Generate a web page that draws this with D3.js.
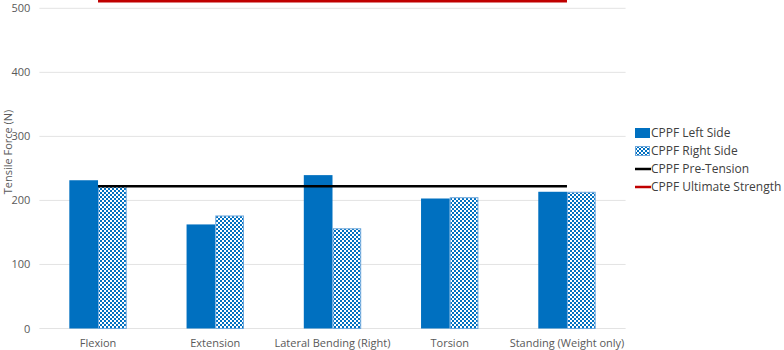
<!DOCTYPE html>
<html><head><meta charset="utf-8">
<script src="https://cdn.jsdelivr.net/npm/d3@7"></script>
<style>body{margin:0;background:#fff}svg{display:block}text{font-family:"Open Sans","Noto Sans",sans-serif}</style>
</head><body><svg id="c" width="784" height="350"></svg>
<script>
const categories = ["Flexion","Extension","Lateral Bending (Right)","Torsion","Standing (Weight only)"];
const leftSide = [231.5, 162.5, 239.5, 203, 213.5];
const rightSide = [224, 176.5, 156.5, 205, 213.5];
const preTension = [222, 222, 222, 222, 222];
const ultimateStrength = [511, 511, 511, 511, 511];
const yTicks = [0,100,200,300,400,500];
const legendLabels = ["CPPF Left Side","CPPF Right Side","CPPF Pre-Tension","CPPF Ultimate Strength"];

const svg = d3.select("#c");
const defs = svg.append("defs");
const pat = defs.append("pattern").attr("id","chk").attr("patternUnits","userSpaceOnUse")
  .attr("width",4).attr("height",4);
pat.append("rect").attr("width",4).attr("height",4).attr("fill","#ffffff");
pat.append("rect").attr("x",0).attr("y",0).attr("width",2).attr("height",2).attr("fill","#0070C0");
pat.append("rect").attr("x",2).attr("y",2).attr("width",2).attr("height",2).attr("fill","#0070C0");

const x0 = 39.4, x1 = 625.6, yTop = 8.3, yBot = 328.5;
const x = d3.scaleBand().domain(categories).range([x0,x1]).paddingInner(0).paddingOuter(0);
const y = d3.scaleLinear().domain([0,500]).range([yBot,yTop]);
const bw = 28.7;

// gridlines
svg.append("g").selectAll("line").data(yTicks).join("line")
  .attr("x1",x0).attr("x2",x1).attr("y1",d=>y(d)).attr("y2",d=>y(d))
  .attr("stroke","#e3e3e3").attr("stroke-width",1);

// y axis labels
const yAxis = d3.axisLeft(y).tickValues(yTicks).tickSize(0).tickPadding(0);
const ya = svg.append("g").attr("transform",`translate(${x0-9},0)`).call(yAxis);
ya.select(".domain").remove();
ya.selectAll("text").attr("font-size",11).attr("fill","#595959")
  .attr("font-family",'"Open Sans","Noto Sans",sans-serif');

// x axis labels
const xAxis = d3.axisBottom(x).tickSize(0).tickPadding(0);
const xa = svg.append("g").attr("transform",`translate(0,${yBot+11})`).call(xAxis);
xa.select(".domain").remove();
xa.selectAll("text").attr("font-size",11).attr("fill","#595959")
  .attr("font-family",'"Open Sans","Noto Sans",sans-serif');

// axis title
svg.append("text").attr("transform","translate(12,152) rotate(-90)")
  .attr("text-anchor","middle").attr("font-size",11).attr("fill","#595959").text("Tensile Force (N)");

const cx = c => x(c) + x.bandwidth()/2;

// bars
svg.append("g").selectAll("rect").data(categories).join("rect")
  .attr("x",c=>cx(c)-bw).attr("width",bw)
  .attr("y",(c,i)=>y(leftSide[i])).attr("height",(c,i)=>yBot-y(leftSide[i]))
  .attr("fill","#0070C0");
svg.append("g").selectAll("rect").data(categories).join("rect")
  .attr("x",c=>cx(c)+0.5).attr("width",bw-1)
  .attr("y",(c,i)=>y(rightSide[i])+0.5).attr("height",(c,i)=>yBot-y(rightSide[i])-0.5)
  .attr("fill","url(#chk)").attr("stroke","#6fa8dc").attr("stroke-width",1);

// lines
const line = d3.line().x((d,i)=>cx(categories[i])).y(d=>y(d));
svg.append("path").datum(preTension).attr("d",line).attr("fill","none")
  .attr("stroke","#000").attr("stroke-width",2.5);
svg.append("path").datum(ultimateStrength).attr("d",line).attr("fill","none")
  .attr("stroke","#C00000").attr("stroke-width",2.5);

// legend
const lg = svg.append("g").attr("transform","translate(635,0)");
const ly = [133, 151, 169, 187];
lg.append("rect").attr("x",0).attr("y",ly[0]-5).attr("width",15).attr("height",10).attr("fill","#0070C0");
lg.append("rect").attr("x",0.5).attr("y",ly[1]-4.5).attr("width",14).attr("height",9).attr("fill","url(#chk)").attr("stroke","#6fa8dc");
lg.append("line").attr("x1",0).attr("x2",16).attr("y1",ly[2]).attr("y2",ly[2]).attr("stroke","#000").attr("stroke-width",2.5);
lg.append("line").attr("x1",0).attr("x2",16).attr("y1",ly[3]).attr("y2",ly[3]).attr("stroke","#C00000").attr("stroke-width",2.5);
lg.selectAll("text").data(legendLabels).join("text")
  .attr("x",16).attr("y",(d,i)=>ly[i]).attr("dy","0.35em")
  .attr("font-size",12).attr("fill","#404040").text(d=>d);
</script></body></html>
